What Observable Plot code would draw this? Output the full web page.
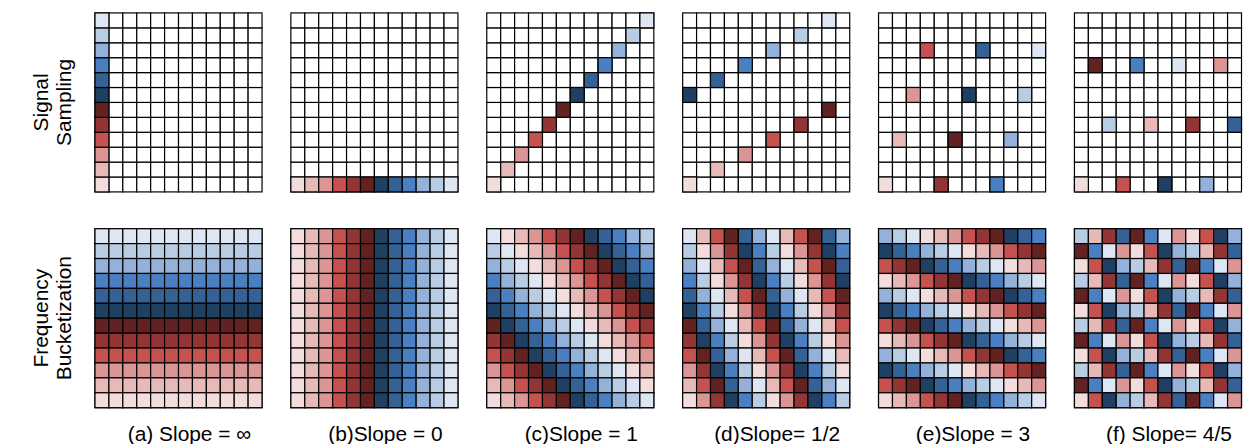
<!DOCTYPE html>
<html><head><meta charset="utf-8">
<script src="https://cdn.jsdelivr.net/npm/d3@7"></script>
<script src="https://cdn.jsdelivr.net/npm/@observablehq/plot@0.6"></script>
<style>
html,body{margin:0;padding:0;background:#fff;overflow:hidden;}
#chart{width:1244px;height:447px;overflow:hidden;}
</style></head><body><div id="chart"></div>
<script>
const panels = ["a", "b", "c", "d", "e", "f"];
const panelLabels = ["(a) Slope = \u221e", "(b)Slope = 0", "(c)Slope = 1", "(d)Slope= 1/2", "(e)Slope = 3", "(f) Slope= 4/5"];
const rows = ["sampling", "bucket"];
const rowLabels = ["Signal\nSampling", "Frequency\nBucketization"];
const palette = ["#f3dcdc", "#e7b9b7", "#db9594", "#c65250", "#943535", "#622222",
                 "#1f3f63", "#356296", "#4a80c1", "#93b1d9", "#b8cce4", "#dde6f2"];

// Signal sampling: column / row of sample with colour index 0..11
const samplingX = [
  [0, 0, 0, 0, 0, 0, 0, 0, 0, 0, 0, 0],
  [0, 1, 2, 3, 4, 5, 6, 7, 8, 9, 10, 11],
  [0, 1, 2, 3, 4, 5, 6, 7, 8, 9, 10, 11],
  [0, 2, 4, 6, 8, 10, 0, 2, 4, 6, 8, 10],
  [0, 1, 2, 3, 4, 5, 6, 7, 8, 9, 10, 11],
  [0, 5, 10, 3, 8, 1, 6, 11, 4, 9, 2, 7]
];
const samplingY = [
  [0, 1, 2, 3, 4, 5, 6, 7, 8, 9, 10, 11],
  [0, 0, 0, 0, 0, 0, 0, 0, 0, 0, 0, 0],
  [0, 1, 2, 3, 4, 5, 6, 7, 8, 9, 10, 11],
  [0, 1, 2, 3, 4, 5, 6, 7, 8, 9, 10, 11],
  [0, 3, 6, 9, 0, 3, 6, 9, 0, 3, 6, 9],
  [0, 4, 8, 0, 4, 8, 0, 4, 8, 0, 4, 8]
];

// Frequency bucketization: colour index per cell (hex digit), top row first
const bucketGrids = [
  ["bbbbbbbbbbbb","aaaaaaaaaaaa","999999999999","888888888888","777777777777","666666666666",
   "555555555555","444444444444","333333333333","222222222222","111111111111","000000000000"],
  ["0123456789ab","0123456789ab","0123456789ab","0123456789ab","0123456789ab","0123456789ab",
   "0123456789ab","0123456789ab","0123456789ab","0123456789ab","0123456789ab","0123456789ab"],
  ["b0123456789a","ab0123456789","9ab012345678","89ab01234567","789ab0123456","6789ab012345",
   "56789ab01234","456789ab0123","3456789ab012","23456789ab01","123456789ab0","0123456789ab"],
  ["b13579b13579","a02468a02468","9b13579b1357","8a02468a0246","79b13579b135","68a02468a024",
   "579b13579b13","468a02468a02","3579b13579b1","2468a02468a0","13579b13579b","02468a02468a"],
  ["9ab012345678","6789ab012345","3456789ab012","0123456789ab","9ab012345678","6789ab012345",
   "3456789ab012","0123456789ab","9ab012345678","6789ab012345","3456789ab012","0123456789ab"],
  ["a14758b20369","58b20369a147","0369a14758b2","a14758b20369","58b20369a147","0369a14758b2",
   "a14758b20369","58b20369a147","0369a14758b2","a14758b20369","58b20369a147","0369a14758b2"]
];

const cols = d3.range(12);
const grid = [];
for (const panel of panels) for (const row of rows) for (const x of cols) for (const y of cols)
  grid.push({panel, row, x, y});

const colored = [];
panels.forEach((panel, p) => {
  samplingX[p].forEach((x, c) => colored.push({panel, row: "sampling", x, y: samplingY[p][c], v: c}));
  bucketGrids[p].forEach((line, r) => {
    for (const x of cols) colored.push({panel, row: "bucket", x, y: 11 - r, v: parseInt(line[x], 16)});
  });
});

const rowText = rows.map((row, i) => ({panel: "a", row, label: rowLabels[i]}));

const chart = Plot.plot({
  width: 1251, height: 447,
  marginLeft: 91.5, marginRight: 0, marginTop: 11, marginBottom: 36,
  x: {type: "band", domain: cols, padding: 0, axis: null},
  y: {type: "band", domain: d3.range(11, -1, -1), padding: 0, axis: null},
  fx: {domain: panels, paddingInner: 0.1163, paddingOuter: 0},
  fy: {domain: rows, paddingInner: 0.158, paddingOuter: 0, axis: null},
  color: {type: "ordinal", domain: d3.range(12), range: palette},
  style: {fontFamily: "'Liberation Sans', Arial, Helvetica, sans-serif", fontSize: "21px", background: "white", color: "black"},
  marks: [
    Plot.cell(grid, {fx: "panel", fy: "row", x: "x", y: "y", fill: "white", stroke: "black", strokeWidth: 1.2, inset: 0}),
    Plot.cell(colored, {fx: "panel", fy: "row", x: "x", y: "y", fill: "v", stroke: "black", strokeWidth: 1.2, inset: 0}),
    Plot.axisFx({anchor: "bottom", tickSize: 0, tickPadding: 17, label: null, dx: 11, fontSize: 21,
                 tickFormat: k => panelLabels[panels.indexOf(k)]}),
    Plot.text(rowText, {fx: "panel", fy: "row", text: "label", frameAnchor: "left", rotate: -90,
                        textAnchor: "middle", lineAnchor: "middle",
                        dx: -40, lineHeight: 1.08, fontSize: 21, fill: "black"})
  ]
});
document.getElementById("chart").append(chart);
</script></body></html>
